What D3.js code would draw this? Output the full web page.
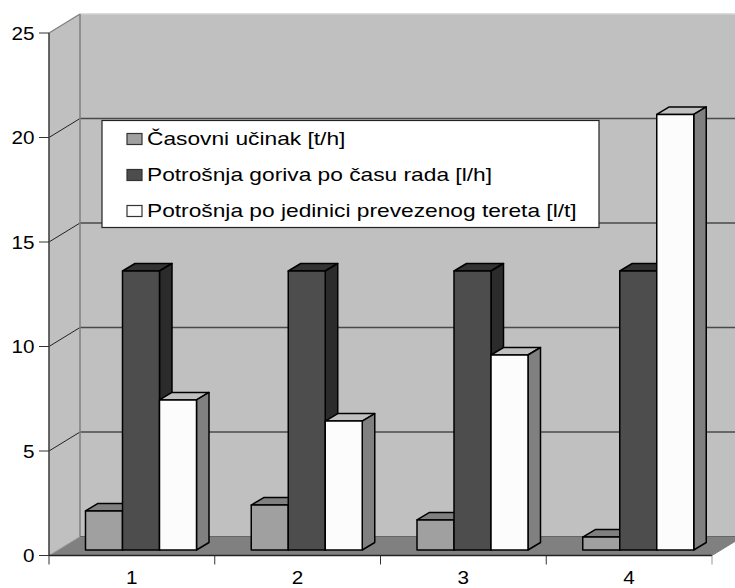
<!DOCTYPE html>
<html><head><meta charset="utf-8">
<script src="https://cdn.jsdelivr.net/npm/d3@7"></script>
<style>html,body{margin:0;padding:0;background:#fff}svg{display:block}text{font-family:"Liberation Sans",Arial,sans-serif;fill:#000}</style>
</head><body><svg id="c" width="735" height="588"></svg>
<script>
const categories = ["1","2","3","4"];
const seriesNames = ["Časovni učinak [t/h]","Potrošnja goriva po času rada [l/h]","Potrošnja po jedinici prevezenog tereta [l/t]"];
const casovni = [1.87,2.15,1.44,0.62];
const gorivo = [13.35,13.35,13.35,13.35];
const jedinica = [7.18,6.17,9.33,20.84];
const yTicks = [0,5,10,15,20,25];
const seriesColors = ["#a0a0a0","#4d4d4d","#fcfcfc"];
const sideColors = ["#5a5a5a","#2b2b2b","#808080"];
const topColors = ["#808080","#333333","#c0c0c0"];

const svg = d3.select("#c");
const y = d3.scaleLinear().domain([0,25]).range([555.5,33]);
const x0 = d3.scaleBand().domain(categories).range([49,712]);
const x1 = d3.scaleBand().domain(seriesNames).range([36.5,147.5]);
const depth = {dx:31,dy:-19}, barOff = {dx:0,dy:-5.5}, barD = {dx:12.5,dy:-7.5};
const poly = (pts,fill,stroke,sw) => svg.append("path").attr("d","M"+pts.map(p=>p.join(",")).join("L")+"Z")
  .attr("fill",fill).attr("stroke",stroke||"none").attr("stroke-width",sw||0).attr("stroke-linejoin","round");
const line = (a,b,c,w)=>svg.append("line").attr("x1",a[0]).attr("y1",a[1]).attr("x2",b[0]).attr("y2",b[1]).attr("stroke",c).attr("stroke-width",w);
const [L,R] = x0.range(), y0=y(0), yT=y(25);

// walls
poly([[L+depth.dx,yT+depth.dy],[R+depth.dx,yT+depth.dy],[R+depth.dx,y0+depth.dy],[L+depth.dx,y0+depth.dy]],"#c0c0c0");
poly([[L,yT],[L+depth.dx,yT+depth.dy],[L+depth.dx,y0+depth.dy],[L,y0]],"#c0c0c0");
poly([[L,y0],[L+depth.dx,y0+depth.dy],[R+depth.dx,y0+depth.dy],[R,y0]],"#808080");
line([L+depth.dx,yT+depth.dy],[735,yT+depth.dy],"#d0d0d0",1.5);
// gridlines
yTicks.filter(t=>t>0&&t<25).forEach(t=>{
  line([L,y(t)],[L+depth.dx,y(t)+depth.dy],"#222",1);
  line([L+depth.dx,y(t)+depth.dy],[R+depth.dx,y(t)+depth.dy],"#4a4a4a",1.3);
});
line([L,yT],[L+depth.dx,yT+depth.dy],"#808080",1.3);
line([L,y0],[L+depth.dx,y0+depth.dy],"#a0a0a0",1);
line([L+depth.dx,yT+depth.dy],[L+depth.dx,y0+depth.dy],"#808080",1.5);
line([L+depth.dx,y0+depth.dy],[R+depth.dx,y0+depth.dy],"#666",1);

// bars
const seriesVals = [casovni,gorivo,jedinica];
categories.forEach((c,i)=>{
  seriesNames.forEach((s,k)=>{
    const v = seriesVals[k][i];
    const xa = x0(c)+x1(s), xb = xa+x1.bandwidth();
    const yb = y(0)+barOff.dy, yt = y(v)+barOff.dy;
    poly([[xa,yt],[xa+barD.dx,yt+barD.dy],[xb+barD.dx,yt+barD.dy],[xb,yt]],topColors[k],"#000",1.5);
    poly([[xb,yt],[xb+barD.dx,yt+barD.dy],[xb+barD.dx,yb+barD.dy],[xb,yb]],sideColors[k],"#000",1.5);
    poly([[xa,yt],[xb,yt],[xb,yb],[xa,yb]],seriesColors[k],"#000",1.5);
  });
});

// axes
line([L,yT],[L,y0+0.5],"#444",1.6);
line([L,y0],[R,y0],"#222",1.6);
line([R,y0],[735,y0+depth.dy*(735-R)/depth.dx],"#808080",1);
svg.selectAll(".yt").data(yTicks).join("text").attr("class","yt")
  .attr("transform",d=>`translate(34.5,${y(d)+6.5}) scale(1.15,1)`)
  .attr("text-anchor","end").attr("font-size",18).text(d=>d);
svg.selectAll(".ytk").data(yTicks).join("line").attr("class","ytk").attr("x1",39).attr("x2",L)
  .attr("y1",d=>y(d)).attr("y2",d=>y(d)).attr("stroke","#333").attr("stroke-width",1);
svg.selectAll(".xtk").data([...categories.map(c=>x0(c)),R]).join("line").attr("class","xtk")
  .attr("x1",d=>d).attr("x2",d=>d).attr("y1",y0).attr("y2",y0+9).attr("stroke",(d,i)=>i===4?"#999":"#333").attr("stroke-width",1);
svg.selectAll(".xt").data(categories).join("text").attr("class","xt")
  .attr("transform",d=>`translate(${x0(d)+x0.bandwidth()/2},584) scale(1.15,1)`)
  .attr("text-anchor","middle").attr("font-size",18).text(d=>d);

// legend
svg.append("rect").attr("x",102).attr("y",120.5).attr("width",497).attr("height",107).attr("fill","#fff").attr("stroke","#222").attr("stroke-width",1.2);
const ly = d3.scalePoint().domain(seriesNames).range([139,211]);
seriesNames.forEach((s,k)=>{
  svg.append("rect").attr("x",127).attr("y",ly(s)-5.5).attr("width",15).attr("height",11).attr("fill",seriesColors[k]).attr("stroke","#333").attr("stroke-width",1.2);
  svg.append("text").attr("transform",`translate(147,${ly(s)+6}) scale(1.3,1)`).attr("font-size",17.5).text(s);
});
</script></body></html>
